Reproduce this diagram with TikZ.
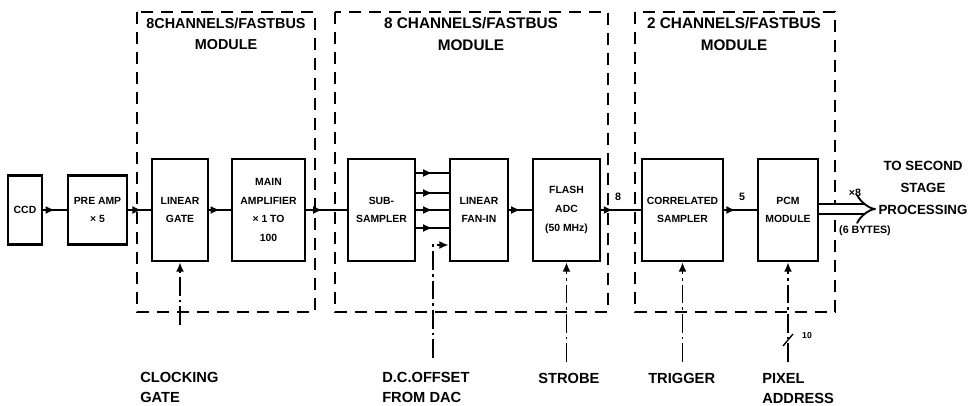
\documentclass[tikz,border=0pt]{standalone}
\usepackage{fontspec}
\setmainfont{Liberation Sans}
\usetikzlibrary{arrows.meta,decorations.markings}
\begin{document}
\begin{tikzpicture}[x=0.75pt,y=-0.75pt,
  blk/.style={draw, line width=2pt, inner sep=0pt, align=center,
    font=\bfseries\fontsize{7.8}{14}\selectfont},
  tall/.style={minimum height=76.5pt},
  short/.style={minimum height=51.75pt},
  modbox/.style={line width=1.5pt, dash pattern=on 9pt off 6pt},
  hdr/.style={align=center, inner sep=0pt, font=\bfseries\fontsize{11.5}{16}\selectfont},
  sig/.style={line width=1.5pt, postaction={decorate},
    decoration={markings, mark=at position #1 with {\arrow{Latex[length=7pt,width=6pt]}}}},
  sig/.default=0.5,
  ctl/.style={line width=1.3pt, dash pattern=on 14pt off 3pt on 2pt off 3pt,
    -{Latex[length=7pt,width=6pt]}},
  buslbl/.style={inner sep=0pt, font=\bfseries\fontsize{8}{10}\selectfont},
  botlbl/.style={anchor=north west, inner sep=0pt, align=left,
    font=\bfseries\fontsize{11}{15}\selectfont}
]
\useasboundingbox (0,0) rectangle (970,406);

% module boxes
\draw[modbox] (137,12) rectangle (315,312);
\draw[modbox] (335,12) rectangle (608,312);
\draw[modbox] (635,12) rectangle (835,312);
\node[hdr, font=\bfseries\fontsize{10.8}{16}\selectfont] (h1) at (226,34) {8CHANNELS/FASTBUS\\MODULE};
\node[hdr] (h2) at (471,34) {8 CHANNELS/FASTBUS\\MODULE};
\node[hdr] (h3) at (734,34) {2 CHANNELS/FASTBUS\\MODULE};

% blocks
\node[blk, short, minimum width=25.5pt] (ccd) at (25,210) {CCD};
\node[blk, short, minimum width=44.25pt] (pre) at (97.5,210) {PRE AMP\\× 5};
\node[blk, tall, minimum width=42pt] (gate) at (180,210) {LINEAR\\GATE};
\node[blk, tall, minimum width=54.75pt] (main) at (268.5,210) {MAIN\\AMPLIFIER\\× 1 TO\\100};
\node[blk, tall, minimum width=50.25pt] (sub) at (381.5,210) {SUB-\\SAMPLER};
\node[blk, tall, minimum width=43.5pt] (fan) at (479,210) {LINEAR\\FAN-IN};
\node[blk, tall, minimum width=50.25pt] (adc) at (566.5,210) {FLASH\\ADC\\(50 MHz)};
\node[blk, tall, minimum width=60.75pt] (corr) at (682.5,210) {CORRELATED\\SAMPLER};
\node[blk, tall, minimum width=45pt] (pcm) at (788,210) {PCM\\MODULE};

% signal path
\draw[sig] (ccd) -- (pre);
\draw[sig=0.6] (pre) -- (gate);
\draw[sig] (gate) -- (main);
\draw[sig=0.4] (main) -- (sub);
\coordinate (f1) at (0,173);
\coordinate (f2) at (0,193);
\coordinate (f3) at (0,210);
\coordinate (f4) at (0,228);
\draw[sig] (sub.east |- f1) -- (fan.west |- f1);
\draw[sig] (sub.east |- f2) -- (fan.west |- f2);
\draw[sig] (sub.east |- f3) -- (fan.west |- f3);
\draw[sig] (sub.east |- f4) -- (fan.west |- f4);
\draw[sig] (fan) -- (adc);
\draw[sig=0.3] (adc) -- (corr);
\node[buslbl] (b8) at (618,197) {8};
\draw[sig=0.35] (corr) -- (pcm);
\node[buslbl] (b5) at (742,197) {5};

% output
\coordinate (out) at (876,209);
\draw[line width=1.4pt, double distance=6.5pt, -{Implies}] (pcm.east |- out) -- (out);
\node[buslbl] (x8) at (855,193) {×8};
\node[buslbl] (bytes) at (865,231) {(6 BYTES)};
\node[align=center, inner sep=0pt, font=\bfseries\fontsize{10}{16.5}\selectfont] (dest) at (923,188) {TO SECOND\\STAGE\\PROCESSING};

% control inputs
\coordinate (clkend) at (180,325);
\draw[ctl] (clkend) -- (gate.south);
\coordinate (dcend) at (433,358);
\coordinate (dc) at (433,245);
\draw[ctl] (dcend) -- (dc) -- (fan.west |- dc);
\coordinate (strend) at (566.5,362);
\draw[ctl] (strend) -- (adc.south);
\coordinate (trigend) at (682.5,362);
\draw[ctl] (trigend) -- (corr.south);
\coordinate (pixend) at (788,362);
\draw[ctl] (pixend) -- (pcm.south);
\coordinate (ps1) at (783,346);
\coordinate (ps2) at (793,334);
\draw[line width=1pt] (ps1) -- (ps2);
\node[inner sep=0pt, font=\bfseries\fontsize{6.5}{8}\selectfont] (p10) at (807,336) {10};

% bottom labels
\node[botlbl] (lclk) at (140,372) {CLOCKING\\GATE};
\node[botlbl] (ldc) at (382,372) {D.C.OFFSET\\FROM DAC};
\node[botlbl] (lstr) at (538,373) {STROBE};
\node[botlbl] (ltrig) at (648,373) {TRIGGER};
\node[botlbl] (lpix) at (762,373) {PIXEL\\ADDRESS};
\end{tikzpicture}
\end{document}
